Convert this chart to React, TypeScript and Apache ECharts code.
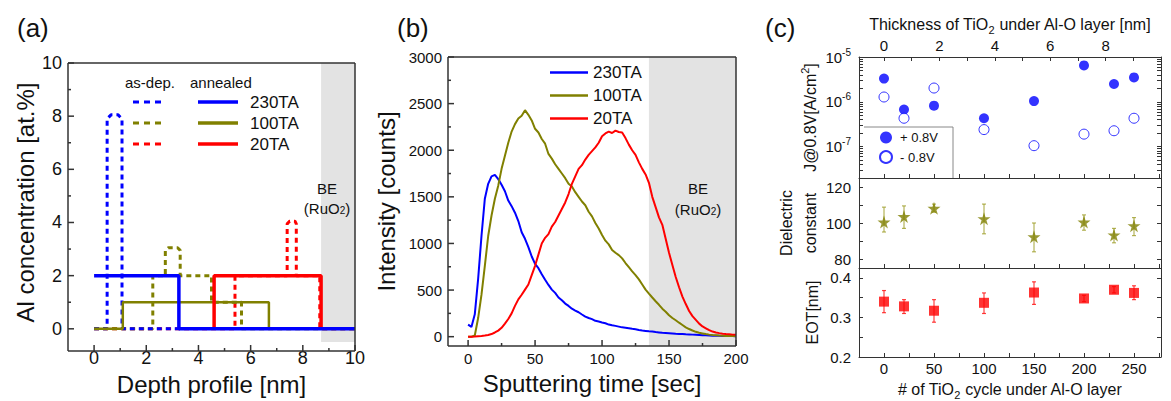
import React, { useEffect, useRef } from 'react';
import * as echarts from 'echarts';

const FONT = '"Liberation Sans", Arial, Helvetica, sans-serif';
const BLUE = '#0000ff';
const OLIVE = '#808000';
const RED = '#ff0000';
const INK = '#111111';
const FRAME = '#333333';
const SHADE = '#e3e3e3';

// ---------- panel (a): Al concentration vs depth [nm, at.%]
const asDep230 = [[0, 0], [0.5, 0], [0.5, 7.9], [0.65, 8.05], [0.92, 8.05], [1.07, 7.9], [1.07, 0], [3.3, 0]];
const asDep100 = [[0, 0], [2.25, 0], [2.25, 2], [2.73, 2], [2.73, 2.95], [2.85, 3.05], [3.2, 3.05], [3.3, 2.95], [3.3, 2], [4.5, 2], [4.5, 1], [5.65, 1], [5.65, 0], [10, 0]];
const asDep20 = [[0, 0], [5.4, 0], [5.4, 2], [7.4, 2], [7.4, 3.95], [7.5, 4.05], [7.7, 4.05], [7.75, 3.95], [7.75, 2], [8.65, 2], [8.65, 0], [10, 0]];
const ann230 = [[0, 2], [3.25, 2], [3.25, 0], [10, 0]];
const ann100 = [[0, 0], [1.1, 0], [1.1, 1], [6.7, 1], [6.7, 0]];
const ann20 = [[4.6, 0], [4.6, 2], [8.7, 2], [8.7, 0]];
const aBERange = [8.7, 10];
const aXRange = [-1, 10];
const aYRange = [-0.5, 10];
const aXLabels = [0, 2, 4, 6, 8, 10];
const aXMinor = [1, 3, 5, 7, 9];
const aYLabels = [0, 2, 4, 6, 8, 10];
const aYMinor = [1, 3, 5, 7, 9];

// ---------- panel (b): SIMS intensity vs sputtering time (2.5 s steps from 0 to 200 s)
const TIME_STEP = 2.5;
const int230 = [130, 105, 240, 620, 1080, 1480, 1640, 1720, 1735, 1690, 1630, 1560, 1460, 1400, 1330, 1240, 1120, 1050, 960, 860, 780, 735, 670, 610, 555, 505, 470, 420, 390, 355, 330, 300, 280, 262, 238, 215, 200, 188, 170, 162, 152, 144, 130, 122, 116, 108, 100, 96, 90, 84, 80, 72, 66, 62, 58, 55, 50, 46, 42, 40, 38, 35, 32, 30, 28, 25, 24, 22, 20, 18, 16, 14, 12, 11, 10, 9, 8, 7, 6, 6, 5];
const int100 = [0, 0, 12, 200, 450, 760, 1080, 1300, 1480, 1620, 1800, 1940, 2080, 2200, 2280, 2340, 2370, 2430, 2380, 2320, 2230, 2190, 2120, 2070, 1960, 1910, 1850, 1800, 1750, 1700, 1640, 1610, 1550, 1500, 1450, 1410, 1340, 1290, 1220, 1160, 1090, 1030, 990, 930, 900, 875, 840, 790, 745, 700, 660, 615, 560, 505, 462, 420, 380, 342, 300, 268, 230, 200, 176, 150, 125, 100, 82, 66, 52, 42, 35, 28, 22, 18, 15, 12, 10, 8, 7, 6, 5];
const int20 = [0, 0, 2, 5, 8, 12, 18, 28, 45, 65, 95, 140, 190, 250, 330, 400, 450, 505, 560, 660, 760, 880, 1000, 1060, 1100, 1180, 1230, 1300, 1370, 1440, 1530, 1640, 1720, 1800, 1840, 1900, 1950, 1990, 2030, 2080, 2150, 2180, 2200, 2185, 2210, 2195, 2190, 2130, 2060, 2000, 1950, 1870, 1800, 1740, 1650, 1500, 1390, 1280, 1200, 1050, 900, 770, 640, 530, 430, 350, 275, 220, 180, 140, 110, 90, 70, 55, 45, 38, 32, 28, 25, 22, 20];
const bBERange = [135, 200];
const bXRange = [-15, 200];
const bYRange = [-100, 3000];
const bXLabels = [0, 50, 100, 150, 200];
const bXMinor = [25, 75, 125, 175];
const bYLabels = [0, 500, 1000, 1500, 2000, 2500, 3000];
const bYMinor = [250, 750, 1250, 1750, 2250, 2750];

// ---------- panel (c): vs # of TiO2 cycles
const cycles = [0, 20, 50, 100, 150, 200, 230, 250];
const jPlus = [3.3e-6, 6.7e-7, 8.2e-7, 4.3e-7, 1.04e-6, 6.5e-6, 2.5e-6, 3.5e-6];
const jMinus = [1.28e-6, 4.3e-7, 2.03e-6, 2.4e-7, 1.05e-7, 1.9e-7, 2.26e-7, 4.3e-7];
const kVal = [100.5, 103.6, 108.2, 102.4, 92.3, 100.5, 93.4, 98.5];
const kLow = [95, 97, 106, 94, 84, 96, 89, 93];
const kHigh = [108.8, 109.5, 110.5, 110.5, 100, 104.5, 97, 103];
const eotVal = [0.34, 0.328, 0.317, 0.337, 0.363, 0.348, 0.37, 0.362];
const eotLow = [0.312, 0.31, 0.288, 0.31, 0.333, 0.34, 0.362, 0.345];
const eotHigh = [0.368, 0.345, 0.345, 0.362, 0.39, 0.356, 0.378, 0.38];
const cXLabels = [0, 50, 100, 150, 200, 250];
const cXTicks = [0, 25, 50, 75, 100, 125, 150, 175, 200, 225, 250, 275];
const NM_PER_CYCLE = 2 / 55.4;
const thickLabels = [0, 2, 4, 6, 8];
const thickTicks = [0, 1, 2, 3, 4, 5, 6, 7, 8, 9, 10];
const jDecades = [-7, -6, -5];
const kLabels = [80, 100, 120];
const kTicks = [80, 90, 100, 110, 120];
const eotLabels = [0.2, 0.3, 0.4];
const eotTicks = [0.2, 0.25, 0.3, 0.35, 0.4];

const STAR = 'path://M50,0 L61,35 L98,35 L68,57 L79,91 L50,70 L21,91 L32,57 L2,35 L39,35 Z';

function axis(o: any) {
  return {
    type: 'value',
    gridIndex: o.grid,
    position: o.pos,
    min: o.min,
    max: o.max,
    axisLine: { show: o.line !== false, onZero: false, lineStyle: { color: FRAME, width: 1 } },
    splitLine: { show: false },
    axisTick: {
      show: !!o.ticks,
      inside: true,
      length: o.tickLen ?? 4,
      customValues: o.ticks,
      lineStyle: { color: FRAME, width: 1 },
    },
    axisLabel: {
      show: !!o.labels,
      customValues: o.labels,
      fontSize: o.fs ?? 15,
      color: INK,
      fontFamily: FONT,
      margin: o.margin ?? 6,
      formatter: o.fmt ?? ((v: number) => String(v)),
      lineHeight: o.lh,
      rich: o.rich,
    },
    name: o.name,
    nameLocation: 'middle',
    nameGap: o.nameGap,
    nameTextStyle: o.nameStyle,
  };
}

function errorBars(xIdx: number, yIdx: number, color: string, lo: number[], hi: number[]) {
  return {
    type: 'custom',
    xAxisIndex: xIdx,
    yAxisIndex: yIdx,
    z: 3,
    silent: true,
    data: cycles.map((c, i) => [c, lo[i], hi[i]]),
    encode: { x: 0, y: [1, 2] },
    renderItem: (params: any, api: any) => {
      const p1 = api.coord([api.value(0), api.value(1)]);
      const p2 = api.coord([api.value(0), api.value(2)]);
      const st = { stroke: color, lineWidth: 1.2, opacity: 0.75 };
      return {
        type: 'group',
        children: [
          { type: 'line', shape: { x1: p1[0], y1: p1[1], x2: p2[0], y2: p2[1] }, style: st },
          { type: 'line', shape: { x1: p1[0] - 2, y1: p1[1], x2: p1[0] + 2, y2: p1[1] }, style: st },
          { type: 'line', shape: { x1: p2[0] - 2, y1: p2[1], x2: p2[0] + 2, y2: p2[1] }, style: st },
        ],
      };
    },
  };
}

function shadeBand(xIdx: number, yIdx: number, range: number[], yRef: number) {
  return {
    type: 'custom',
    xAxisIndex: xIdx,
    yAxisIndex: yIdx,
    z: 1,
    silent: true,
    data: [[range[0], range[1], yRef]],
    encode: { x: [0, 1], y: 2 },
    renderItem: (params: any, api: any) => {
      const cs = params.coordSys;
      const a = api.coord([api.value(0), api.value(2)]);
      const b = api.coord([api.value(1), api.value(2)]);
      return {
        type: 'rect',
        shape: { x: a[0], y: cs.y, width: b[0] - a[0], height: cs.height },
        style: { fill: SHADE },
      };
    },
  };
}

type Box = { left: number; top: number; width: number; height: number };

export default function App() {
  const ref = useRef<HTMLDivElement>(null);

  useEffect(() => {
    document.body.style.margin = '0';
    const chart = echarts.init(ref.current!, null, { renderer: 'svg' });

    const bigName = { fontSize: 24, fontFamily: FONT, color: INK };
    const cName = {
      fontSize: 16,
      fontFamily: FONT,
      color: INK,
      lineHeight: 22,
      rich: {
        sub: { fontSize: 11, fontFamily: FONT, color: INK, verticalAlign: 'bottom', lineHeight: 14 },
        sup: { fontSize: 11, fontFamily: FONT, color: INK, verticalAlign: 'top', lineHeight: 12 },
      },
    };

    const cTop = 57, c1H = 121, c2H = 90, c3H = 93;

    const boxA: Box = { left: 68, top: 63, width: 287, height: 288 };
    const boxB: Box = { left: 448, top: 57, width: 288, height: 289 };
    const grids = [
      boxA,
      boxB,
      { left: 859, top: cTop, width: 302, height: c1H },
      { left: 859, top: cTop + c1H, width: 302, height: c2H },
      { left: 859, top: cTop + c1H + c2H, width: 302, height: c3H },
    ];

    const cMin = -25, cMax = 277;

    const xAxis = [
      axis({ grid: 0, pos: 'bottom', line: false, min: aXRange[0], max: aXRange[1], labels: aXLabels, fs: 18, margin: 7,
        name: 'Depth profile [nm]', nameGap: 24, nameStyle: bigName }),
      axis({ grid: 1, pos: 'bottom', line: false, min: bXRange[0], max: bXRange[1], labels: bXLabels, fs: 15, margin: 5,
        name: 'Sputtering time [sec]', nameGap: 25, nameStyle: bigName }),
      axis({ grid: 2, pos: 'bottom', min: cMin, max: cMax, ticks: cXTicks }),
      axis({ grid: 2, pos: 'top', min: cMin * NM_PER_CYCLE, max: cMax * NM_PER_CYCLE, ticks: thickTicks,
        labels: thickLabels, fs: 15, margin: 4,
        name: 'Thickness of TiO{sub|2} under Al-O layer [nm]', nameGap: 22, nameStyle: cName }),
      axis({ grid: 3, pos: 'bottom', min: cMin, max: cMax, ticks: cXTicks }),
      axis({ grid: 4, pos: 'bottom', min: cMin, max: cMax, ticks: cXTicks, labels: cXLabels, fs: 15, margin: 4,
        name: '# of TiO{sub|2} cycle under Al-O layer', nameGap: 21, nameStyle: cName }),
    ];

    const jMinorTicks: number[] = [];
    [-8, -7, -6].forEach((d) => {
      [2, 3, 4, 5, 6, 7, 8, 9].forEach((k) => jMinorTicks.push(d + Math.log10(k)));
    });
    const jTicks = [...jDecades, ...jMinorTicks.filter((v) => v > -7.7 && v < -5)];

    const jRich = {
      sup: { fontSize: 10, fontFamily: FONT, color: INK, verticalAlign: 'top', lineHeight: 10 },
    };

    const yAxis = [
      axis({ grid: 0, pos: 'left', line: false, min: aYRange[0], max: aYRange[1], labels: aYLabels, fs: 18, margin: 6,
        name: 'Al concentration [at.%]', nameGap: 31, nameStyle: bigName }),
      axis({ grid: 1, pos: 'left', line: false, min: bYRange[0], max: bYRange[1], labels: bYLabels, fs: 15, margin: 6,
        name: 'Intensity [counts]', nameGap: 50, nameStyle: bigName }),
      axis({ grid: 2, pos: 'left', min: -7.7, max: -5, ticks: jTicks, labels: jDecades, fs: 15, margin: 8,
        fmt: (v: number) => `10{sup|${Math.round(v)}}`, lh: 20, rich: jRich,
        name: 'J@0.8V[A/cm{sup|2}]', nameGap: 34, nameStyle: cName }),
      axis({ grid: 2, pos: 'right', min: -7.7, max: -5, ticks: jTicks }),
      axis({ grid: 3, pos: 'left', min: 75, max: 125, ticks: kTicks, labels: kLabels, fs: 15, margin: 8,
        name: 'Dielectric\nconstant', nameGap: 33, nameStyle: { ...cName, lineHeight: 24 } }),
      axis({ grid: 3, pos: 'right', min: 75, max: 125, ticks: kTicks }),
      axis({ grid: 4, pos: 'left', min: 0.2, max: 0.425, ticks: eotTicks, labels: eotLabels, fs: 15, margin: 8,
        fmt: (v: number) => v.toFixed(1),
        name: 'EOT[nm]', nameGap: 36, nameStyle: cName }),
      axis({ grid: 4, pos: 'right', min: 0.2, max: 0.425, ticks: eotTicks }),
    ];

    const stepLine = (name: string, data: number[][], color: string, width: number, dashed: boolean) => ({
      type: 'line',
      name,
      xAxisIndex: 0,
      yAxisIndex: 0,
      data,
      symbol: 'none',
      silent: true,
      z: dashed ? 2 : 3,
      lineStyle: { color, width, type: dashed ? [5, 4] : 'solid', cap: 'butt' },
    });

    const timeData = (vals: number[]) => vals.map((v, i) => [i * TIME_STEP, v]);
    const sims = (name: string, vals: number[], color: string) => ({
      type: 'line',
      name,
      xAxisIndex: 1,
      yAxisIndex: 1,
      data: timeData(vals),
      symbol: 'none',
      showSymbol: false,
      z: 3,
      lineStyle: { color, width: 2 },
      itemStyle: { color },
    });

    const series: any[] = [
      shadeBand(0, 0, aBERange, 0),
      shadeBand(1, 1, bBERange, 0),
      stepLine('as-dep. 20TA', asDep20, RED, 3, true),
      stepLine('as-dep. 100TA', asDep100, OLIVE, 3, true),
      stepLine('as-dep. 230TA', asDep230, BLUE, 3, true),
      stepLine('annealed 100TA', ann100, OLIVE, 2.5, false),
      stepLine('annealed 20TA', ann20, RED, 3.5, false),
      stepLine('annealed 230TA', ann230, BLUE, 3.5, false),
      sims('230TA', int230, BLUE),
      sims('100TA', int100, OLIVE),
      sims('20TA', int20, RED),
      {
        type: 'scatter', name: '+ 0.8V', xAxisIndex: 2, yAxisIndex: 2,
        data: cycles.map((c, i) => [c, Math.log10(jPlus[i])]),
        symbol: 'circle', symbolSize: 10, itemStyle: { color: BLUE }, z: 4,
      },
      {
        type: 'scatter', name: '- 0.8V', xAxisIndex: 2, yAxisIndex: 2,
        data: cycles.map((c, i) => [c, Math.log10(jMinus[i])]),
        symbol: 'circle', symbolSize: 10, itemStyle: { color: '#ffffff', borderColor: BLUE, borderWidth: 1 }, z: 4,
      },
      errorBars(4, 4, '#9a9a20', kLow, kHigh),
      {
        type: 'scatter', name: 'k', xAxisIndex: 4, yAxisIndex: 4,
        data: cycles.map((c, i) => [c, kVal[i]]),
        symbol: STAR, symbolSize: 13, itemStyle: { color: OLIVE }, z: 4,
      },
      errorBars(5, 6, RED, eotLow, eotHigh),
      {
        type: 'scatter', name: 'EOT', xAxisIndex: 5, yAxisIndex: 6,
        data: cycles.map((c, i) => [c, eotVal[i]]),
        symbol: 'rect', symbolSize: 10, itemStyle: { color: RED }, z: 4,
      },
    ];

    chart.setOption({
      animation: false,
      textStyle: { fontFamily: FONT },
      grid: grids,
      xAxis,
      yAxis,
      series,
      legend: [
        {
          data: ['230TA', '100TA', '20TA'],
          orient: 'vertical',
          left: 550,
          top: 64,
          padding: 0,
          icon: 'rect',
          itemWidth: 38,
          itemHeight: 2.5,
          itemGap: 6,
          textStyle: { fontSize: 17, fontFamily: FONT, color: INK, lineHeight: 14 },
          selectedMode: false,
        },
        {
          data: ['+ 0.8V', '- 0.8V'],
          orient: 'vertical',
          left: 879,
          top: 131,
          padding: 0,
          itemWidth: 18,
          itemHeight: 12,
          itemGap: 6,
          textStyle: { fontSize: 13, fontFamily: FONT, color: INK, lineHeight: 12 },
          selectedMode: false,
        },
      ],
    });

    // frames (box of each plot) and inward ticks for panels (a) and (b)
    const frameGraphics = (gridIndex: number, box: Box, xr: number[], yr: number[], xMaj: number[], xMin: number[], yMaj: number[], yMin: number[]) => {
      const L = box.left, T = box.top, R = box.left + box.width, B = box.top + box.height;
      const st = { stroke: FRAME, lineWidth: 1.5 };
      const ln = (x1: number, y1: number, x2: number, y2: number) => ({
        type: 'line', z: 60, silent: true, shape: { x1, y1, x2, y2 }, style: st,
      });
      const toX = (v: number) => {
        const p = chart.convertToPixel({ gridIndex }, [v, yr[0]]) as any;
        return p && isFinite(p[0]) ? p[0] : L + ((v - xr[0]) / (xr[1] - xr[0])) * box.width;
      };
      const toY = (v: number) => {
        const p = chart.convertToPixel({ gridIndex }, [xr[0], v]) as any;
        return p && isFinite(p[1]) ? p[1] : B - ((v - yr[0]) / (yr[1] - yr[0])) * box.height;
      };
      const els: any[] = [ln(L, T, R, T), ln(L, B, R, B), ln(L, T, L, B), ln(R, T, R, B)];
      xMaj.forEach((v) => { const x = toX(v); els.push(ln(x, B, x, B - 6)); });
      xMin.forEach((v) => { const x = toX(v); els.push(ln(x, B, x, B - 3)); });
      yMaj.forEach((v) => { const y = toY(v); els.push(ln(L, y, L + 6, y)); });
      yMin.forEach((v) => { const y = toY(v); els.push(ln(L, y, L + 3, y)); });
      return els;
    };

    const txt = (x: number, y: number, text: string, size: number, align = 'left', rich?: any) => ({
      type: 'text',
      x,
      y,
      z: 100,
      silent: true,
      style: { text, fontSize: size, fontFamily: FONT, fill: INK, align, verticalAlign: 'middle', rich },
    });
    const seg = (x1: number, x2: number, y: number, color: string, w: number, dash?: number[]) => ({
      type: 'line',
      silent: true,
      z: 100,
      shape: { x1, y1: y, x2, y2: y },
      style: { stroke: color, lineWidth: w, lineDash: dash },
    });
    const subRich = { sub: { fontSize: 10, fontFamily: FONT, fill: INK, verticalAlign: 'bottom', lineHeight: 12 } };

    const graphic = [
      ...frameGraphics(0, boxA, aXRange, aYRange, aXLabels, aXMinor, aYLabels, aYMinor),
      ...frameGraphics(1, boxB, bXRange, bYRange, bXLabels, bXMinor, bYLabels, bYMinor),
      txt(17, 28, '(a)', 26),
      txt(397, 28, '(b)', 26),
      txt(765, 28, '(c)', 26),
      // panel a legend
      txt(125, 82, 'as-dep.', 15),
      txt(190, 82, 'annealed', 15),
      seg(133, 163, 102, BLUE, 3, [6, 5]),
      seg(133, 163, 123, OLIVE, 3, [6, 5]),
      seg(133, 163, 144, RED, 3, [6, 5]),
      seg(198, 238, 102, BLUE, 3.5),
      seg(198, 238, 123, OLIVE, 3.5),
      seg(198, 238, 144, RED, 3.5),
      txt(250, 102, '230TA', 17),
      txt(250, 123, '100TA', 17),
      txt(250, 144, '20TA', 17),
      // BE labels
      txt(327, 188, 'BE', 15, 'center'),
      txt(327, 208, '(RuO{sub|2})', 15, 'center', subRich),
      txt(698, 188, 'BE', 15, 'center'),
      txt(698, 209, '(RuO{sub|2})', 15, 'center', subRich),
      // panel c legend frame
      { type: 'line', silent: true, z: 100, shape: { x1: 864, y1: 127, x2: 953, y2: 127 }, style: { stroke: '#888', lineWidth: 1 } },
      { type: 'line', silent: true, z: 100, shape: { x1: 953, y1: 127, x2: 953, y2: 178 }, style: { stroke: '#888', lineWidth: 1 } },
    ];

    chart.setOption({ graphic });

    return () => chart.dispose();
  }, []);

  return <div ref={ref} style={{ width: 1171, height: 401 }} />;
}
